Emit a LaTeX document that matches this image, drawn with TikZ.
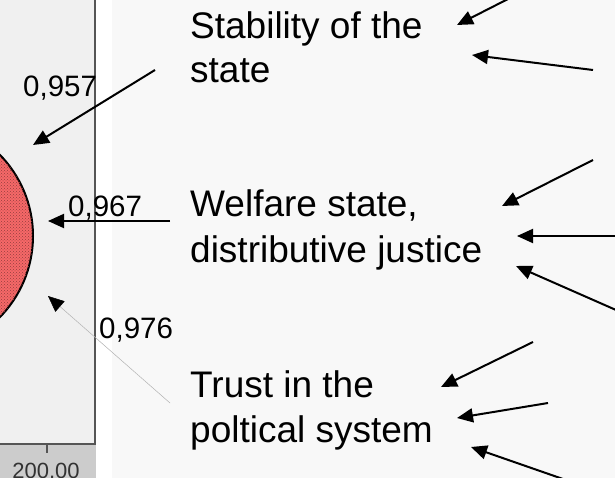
\documentclass[tikz,border=0pt]{standalone}
\usepackage{fontspec}
\setmainfont{Liberation Sans}
\usetikzlibrary{arrows.meta,patterns}
\definecolor{panelbg}{RGB}{240,240,240}
\definecolor{pagebg}{RGB}{248,248,248}
\definecolor{axisbg}{RGB}{204,204,204}
\definecolor{framec}{RGB}{85,85,85}
\definecolor{bubble}{RGB}{246,104,104}
\definecolor{ticklbl}{RGB}{50,50,50}
\begin{document}
\begin{tikzpicture}[x=1pt,y=-1pt,
  lbl/.style={font=\fontsize{37}{44}\selectfont, inner sep=0, anchor=base west},
  num/.style={font=\fontsize{29.5}{35}\selectfont, inner sep=0, anchor=base west},
  arr/.style={line width=2pt, -{Triangle[length=16pt,width=14pt]}},
  thinarr/.style={line width=0.5pt, draw=gray!60, -{Triangle[length=16pt,width=14pt,color=black]}}]
\useasboundingbox (0,0) rectangle (615,478);
\clip (0,0) rectangle (615,478);
% backgrounds
\fill[pagebg] (0,0) rectangle (615,478);
\fill[white] (96,0) rectangle (112,478);
\fill[panelbg] (0,0) rectangle (95,444);
\fill[axisbg] (0,445) rectangle (96,478);
% bubble
\node (bub) [circle, draw, line width=2pt, fill=bubble, minimum size=232pt, inner sep=0,
  postaction={pattern=crosshatch dots, pattern color=bubble!60!black}] at (-83,236) {};
% frame and axis
\draw[framec, line width=2.5pt] (95,0) -- (95,444) -- (0,444);
\coordinate (tk0) at (47,445);
\coordinate (tk1) at (47,453);
\draw[framec, line width=1.5pt] (tk0) -- (tk1);
\node (ax) [font=\fontsize{22}{26}\selectfont, text=ticklbl, inner sep=0, anchor=base] at (46,478) {200,00};
% coefficient labels
\node (n1) [num] at (23,97) {0,957};
\node (n2) [num] at (68,217) {0,967};
\node (n3) [num] at (99,338) {0,976};
% text labels
\node (s1) [lbl] at (190,39) {Stability of the};
\node (s2) [lbl] at (190,83) {state};
\node (w1) [lbl] at (190,217) {Welfare state,};
\node (w2) [lbl] at (190,262) {distributive justice};
\node (t1) [lbl] at (190,397) {Trust in the};
\node (t2) [lbl] at (190,442) {poltical system};
% left arrows
\coordinate (l1s) at (155,70);  \coordinate (l1e) at (33,145);
\coordinate (l2s) at (170,221); \coordinate (l2e) at (48,221);
\coordinate (l3s) at (170,403); \coordinate (l3e) at (48,296);
\draw[arr] (l1s) -- (l1e);
\draw[arr] (l2s) -- (l2e);
\draw[thinarr] (l3s) -- (l3e);
% right arrows, group 1
\coordinate (a1s) at (508,-1);  \coordinate (a1e) at (457,25);
\coordinate (a2s) at (593,70);  \coordinate (a2e) at (472,55);
\draw[arr] (a1s) -- (a1e);
\draw[arr] (a2s) -- (a2e);
% group 2
\coordinate (b1s) at (593,160); \coordinate (b1e) at (502,206);
\coordinate (b2s) at (616,236); \coordinate (b2e) at (517,236);
\coordinate (b3s) at (616,310); \coordinate (b3e) at (516,266);
\draw[arr] (b1s) -- (b1e);
\draw[arr] (b2s) -- (b2e);
\draw[arr] (b3s) -- (b3e);
% group 3
\coordinate (c1s) at (533,342); \coordinate (c1e) at (441,387);
\coordinate (c2s) at (548,403); \coordinate (c2e) at (457,418);
\coordinate (c3s) at (563,479); \coordinate (c3e) at (471,447);
\draw[arr] (c1s) -- (c1e);
\draw[arr] (c2s) -- (c2e);
\draw[arr] (c3s) -- (c3e);
\end{tikzpicture}
\end{document}
